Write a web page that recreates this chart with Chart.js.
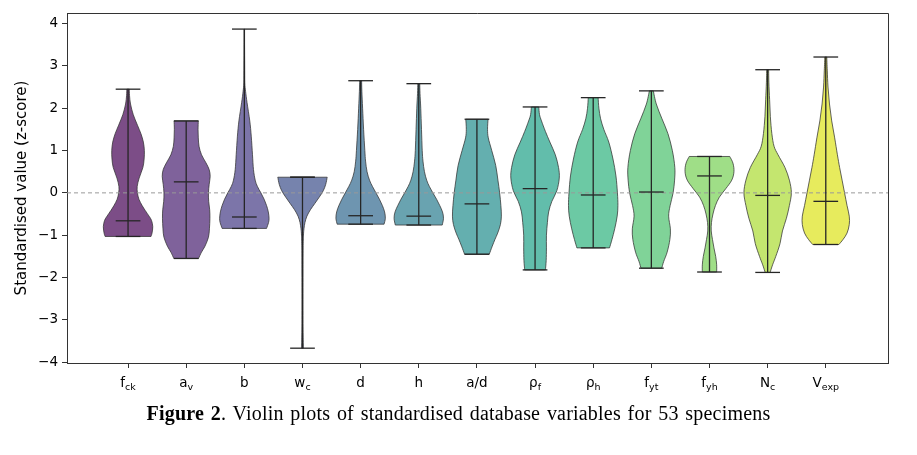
<!DOCTYPE html>
<html>
<head>
<meta charset="utf-8">
<script src="https://cdn.jsdelivr.net/npm/chart.js@4.4.1/dist/chart.umd.min.js"></script>
<style>
  body { margin: 0; background: #fff; }
  #wrap { position: relative; width: 917px; height: 455px; }
  #caption {
    position: absolute; left: 0; top: 402px; width: 917px; text-align: center;
    font-family: "Liberation Serif", "Times New Roman", serif; font-size: 20px; color: #000;
    letter-spacing: 0.2px; word-spacing: 1.5px;
  }
</style>
</head>
<body>
<div id="wrap">
  <canvas id="violinChart" width="917" height="455"></canvas>
  <div id="caption"><b>Figure 2</b>. Violin plots of standardised database variables for 53 specimens</div>
</div>
<script>
// variables (tick label = base + subscript)
const tickBase = ["f", "a", "b", "w", "d", "h", "a/d", "\u03C1", "\u03C1", "f", "f", "N", "V"];
const tickSub  = ["ck", "v", "", "c", "", "", "", "f", "h", "yt", "yh", "c", "exp"];
const positions = [1, 2, 3, 4, 5, 6, 7, 8, 9, 10, 11, 12, 13];
const yTicks = [-4, -3, -2, -1, 0, 1, 2, 3, 4];

// (z-scores)
const mins    = [-1.03, -1.55, -0.84, -3.67, -0.74, -0.76, -1.45, -1.82, -1.30, -1.78, -1.87, -1.88, -1.22];
const maxs    = [ 2.45,  1.70,  3.87,  0.37,  2.65,  2.58,  1.74,  2.03,  2.25,  2.41,  0.86,  2.91,  3.21];
const medians = [-0.66,  0.26, -0.57,  0.37, -0.54, -0.55, -0.26,  0.10, -0.05,  0.02,  0.40, -0.06, -0.20];

// density outline of each violin: [z, relative half-width]
const densityProfiles = [
  [[-1.03,0.93],[-0.95,0.97],[-0.8,1.0],[-0.65,0.95],[-0.55,0.85],[-0.42,0.7],[-0.3,0.57],[-0.15,0.44],[0.0,0.38],[0.15,0.37],[0.35,0.45],[0.6,0.6],[0.8,0.65],[1.0,0.66],[1.2,0.62],[1.4,0.52],[1.6,0.38],[1.85,0.21],[2.1,0.1],[2.3,0.06],[2.45,0.05]],
  [[-1.55,0.5],[-1.4,0.62],[-1.26,0.76],[-1.05,0.9],[-0.85,0.94],[-0.6,0.96],[-0.4,0.95],[-0.2,0.91],[0.0,0.9],[0.2,0.93],[0.39,0.97],[0.55,0.93],[0.71,0.8],[0.9,0.62],[1.1,0.52],[1.3,0.49],[1.5,0.48],[1.70,0.49]],
  [[-0.84,0.9],[-0.7,0.98],[-0.6,1.0],[-0.45,0.97],[-0.3,0.9],[-0.15,0.8],[0.0,0.67],[0.15,0.53],[0.3,0.44],[0.55,0.37],[0.9,0.33],[1.34,0.28],[1.7,0.22],[2.13,0.11],[2.4,0.05],[2.6,0.02],[3.0,0.015],[3.5,0.01],[3.87,0.01]],
  [[-3.67,0.04],[-3.5,0.03],[-3.0,0.02],[-2.0,0.02],[-1.3,0.025],[-1.0,0.04],[-0.85,0.06],[-0.7,0.1],[-0.55,0.18],[-0.4,0.32],[-0.25,0.5],[-0.1,0.68],[0.05,0.84],[0.2,0.94],[0.37,1.0]],
  [[-0.74,0.95],[-0.6,1.0],[-0.45,0.97],[-0.3,0.88],[-0.15,0.76],[0.0,0.62],[0.15,0.48],[0.3,0.36],[0.5,0.26],[0.75,0.2],[1.0,0.17],[1.5,0.12],[2.0,0.08],[2.4,0.05],[2.65,0.04]],
  [[-0.76,0.95],[-0.6,1.0],[-0.45,0.96],[-0.3,0.85],[-0.15,0.72],[0.0,0.57],[0.15,0.43],[0.3,0.32],[0.5,0.23],[0.75,0.17],[1.0,0.14],[1.5,0.11],[2.0,0.08],[2.35,0.05],[2.58,0.04]],
  [[-1.45,0.5],[-1.26,0.62],[-1.1,0.73],[-0.95,0.84],[-0.75,0.95],[-0.55,0.99],[-0.3,0.97],[0.0,0.92],[0.3,0.85],[0.65,0.76],[1.0,0.6],[1.3,0.46],[1.5,0.43],[1.74,0.45]],
  [[-1.82,0.42],[-1.6,0.45],[-1.3,0.46],[-1.0,0.46],[-0.7,0.5],[-0.45,0.55],[-0.2,0.68],[0.05,0.88],[0.35,0.98],[0.6,0.95],[0.9,0.82],[1.2,0.6],[1.45,0.42],[1.7,0.26],[1.85,0.18],[2.03,0.15]],
  [[-1.30,0.66],[-1.1,0.76],[-0.85,0.87],[-0.55,0.97],[-0.3,1.0],[0.0,0.98],[0.4,0.92],[0.8,0.8],[1.2,0.63],[1.5,0.43],[1.75,0.3],[2.0,0.23],[2.25,0.2]],
  [[-1.78,0.42],[-1.62,0.5],[-1.4,0.64],[-1.1,0.75],[-0.85,0.77],[-0.55,0.7],[-0.3,0.76],[0.0,0.88],[0.3,0.94],[0.6,0.95],[1.0,0.85],[1.4,0.67],[1.75,0.43],[2.1,0.2],[2.41,0.08]],
  [[-1.87,0.29],[-1.7,0.29],[-1.5,0.25],[-1.3,0.18],[-1.1,0.12],[-0.9,0.07],[-0.7,0.08],[-0.5,0.14],[-0.3,0.24],[-0.1,0.4],[0.1,0.66],[0.3,0.9],[0.5,0.99],[0.7,0.95],[0.86,0.82]],
  [[-1.88,0.1],[-1.7,0.2],[-1.5,0.33],[-1.2,0.5],[-0.9,0.6],[-0.6,0.76],[-0.3,0.88],[0.0,0.96],[0.3,0.88],[0.6,0.7],[0.9,0.42],[1.1,0.26],[1.4,0.17],[1.8,0.11],[2.2,0.08],[2.6,0.05],[2.91,0.04]],
  [[-1.22,0.53],[-1.1,0.7],[-0.95,0.86],[-0.75,0.95],[-0.55,0.95],[-0.3,0.86],[0.0,0.76],[0.3,0.66],[0.6,0.56],[0.9,0.47],[1.3,0.36],[1.7,0.24],[2.1,0.15],[2.5,0.09],[2.9,0.06],[3.21,0.04]]
];

// viridis samples, alpha 0.7
const violinColors = [
  "rgba(68,1,84,0.7)", "rgba(72,31,112,0.7)", "rgba(68,59,132,0.7)", "rgba(60,79,138,0.7)",
  "rgba(49,104,142,0.7)", "rgba(41,124,142,0.7)", "rgba(34,141,141,0.7)", "rgba(32,161,135,0.7)",
  "rgba(46,178,125,0.7)", "rgba(74,193,108,0.7)", "rgba(118,208,84,0.7)", "rgba(171,220,50,0.7)",
  "rgba(221,227,24,0.7)"
];

const halfWidth = 0.425;   // widths=0.85
const capHalf = 0.2125;
const lineColor = "#262626";
const tickFont = '13.5px "DejaVu Sans"';

function smoothTo(ctx, p) {
  for (let k = 0; k < p.length - 1; k++) {
    const p0 = p[k - 1] || p[k], p1 = p[k], p2 = p[k + 1], p3 = p[k + 2] || p2;
    ctx.bezierCurveTo(
      p1.x + (p2.x - p0.x) / 6, p1.y + (p2.y - p0.y) / 6,
      p2.x - (p3.x - p1.x) / 6, p2.y - (p3.y - p1.y) / 6,
      p2.x, p2.y);
  }
}

const violinPlugin = {
  id: "violins",
  beforeDatasetsDraw(chart) {
    const { ctx, chartArea, scales: { x, y } } = chart;
    ctx.save();
    ctx.beginPath();
    ctx.rect(chartArea.left, chartArea.top, chartArea.width, chartArea.height);
    ctx.clip();

    densityProfiles.forEach((prof, i) => {
      const pos = positions[i];
      const right = prof.map(([z, w]) => ({ x: x.getPixelForValue(pos + w * halfWidth), y: y.getPixelForValue(z) }));
      const left = prof.map(([z, w]) => ({ x: x.getPixelForValue(pos - w * halfWidth), y: y.getPixelForValue(z) })).reverse();
      ctx.beginPath();
      ctx.moveTo(right[0].x, right[0].y);
      smoothTo(ctx, right);
      ctx.lineTo(left[0].x, left[0].y);
      smoothTo(ctx, left);
      ctx.closePath();
      ctx.fillStyle = violinColors[i];
      ctx.fill();
      ctx.strokeStyle = "rgba(50,50,50,0.75)";
      ctx.lineWidth = 1;
      ctx.stroke();
    });

    // zero reference, over the bodies
    const y0 = y.getPixelForValue(0);
    ctx.setLineDash([4, 3]);
    ctx.strokeStyle = "#9a9a9a";
    ctx.lineWidth = 1;
    ctx.beginPath();
    ctx.moveTo(chartArea.left, y0);
    ctx.lineTo(chartArea.right, y0);
    ctx.stroke();
    ctx.setLineDash([]);

    // min-max bars
    ctx.strokeStyle = lineColor;
    ctx.lineWidth = 1.3;
    positions.forEach((pos, i) => {
      const px = x.getPixelForValue(pos);
      ctx.beginPath();
      ctx.moveTo(px, y.getPixelForValue(mins[i]));
      ctx.lineTo(px, y.getPixelForValue(maxs[i]));
      ctx.stroke();
    });
    ctx.restore();
  },
  afterDraw(chart) {
    const { ctx, chartArea, scales: { x } } = chart;
    ctx.save();
    // top and right spines
    ctx.strokeStyle = "#333";
    ctx.lineWidth = 1;
    ctx.beginPath();
    ctx.moveTo(chartArea.left, chartArea.top + 0.5);
    ctx.lineTo(chartArea.right + 0.5, chartArea.top + 0.5);
    ctx.lineTo(chartArea.right + 0.5, chartArea.bottom);
    ctx.stroke();

    // x tick labels with subscripts
    ctx.fillStyle = "#000";
    ctx.textBaseline = "alphabetic";
    ctx.textAlign = "left";
    const subFont = '9.5px "DejaVu Sans"';
    tickBase.forEach((b, i) => {
      ctx.font = tickFont;
      const wb = ctx.measureText(b).width;
      ctx.font = subFont;
      const ws = ctx.measureText(tickSub[i]).width;
      const start = x.getPixelForValue(positions[i]) - (wb + ws) / 2;
      ctx.font = tickFont;
      ctx.fillText(b, start, 387);
      ctx.font = subFont;
      ctx.fillText(tickSub[i], start + wb, 390);
    });
    ctx.restore();
  }
};

const capStyle = {
  showLine: false,
  pointStyle: "line",
  pointRadius: c => Math.abs(c.chart.scales.x.getPixelForValue(capHalf) - c.chart.scales.x.getPixelForValue(0)),
  pointBorderColor: lineColor,
  pointBorderWidth: 1.3
};

new Chart(document.getElementById("violinChart"), {
  type: "scatter",
  data: {
    datasets: [
      Object.assign({ label: "min", data: positions.map((p, i) => ({ x: p, y: mins[i] })) }, capStyle),
      Object.assign({ label: "max", data: positions.map((p, i) => ({ x: p, y: maxs[i] })) }, capStyle),
      Object.assign({ label: "median", data: positions.map((p, i) => ({ x: p, y: medians[i] })) }, capStyle)
    ]
  },
  options: {
    responsive: false,
    animation: false,
    events: [],
    layout: { padding: { top: 13, right: 29, left: 0, bottom: 0 } },
    plugins: { legend: { display: false }, tooltip: { enabled: false } },
    scales: {
      x: {
        type: "linear",
        min: -0.05,
        max: 14.07,
        afterBuildTicks: s => { s.ticks = positions.map(v => ({ value: v })); },
        afterFit: s => { s.height = 92; },
        grid: { drawOnChartArea: false, drawTicks: true, tickLength: 5, color: "#333" },
        border: { color: "#333", width: 1 },
        ticks: { display: false }
      },
      y: {
        min: -4.02,
        max: 4.25,
        afterBuildTicks: s => { s.ticks = yTicks.map(v => ({ value: v })); },
        afterFit: s => { s.width = 67; },
        grid: { drawOnChartArea: false, drawTicks: true, tickLength: 5, color: "#333" },
        border: { color: "#333", width: 1 },
        ticks: {
          font: { family: "DejaVu Sans", size: 13.5 },
          color: "#000",
          padding: 4,
          callback: v => (v < 0 ? "\u2212" + Math.abs(v) : String(v))
        },
        title: {
          display: true,
          text: "Standardised value (z-score)",
          font: { family: "DejaVu Sans", size: 15 },
          color: "#000",
          padding: { top: 13, bottom: 0 }
        }
      }
    }
  },
  plugins: [violinPlugin]
});
</script>
</body>
</html>
